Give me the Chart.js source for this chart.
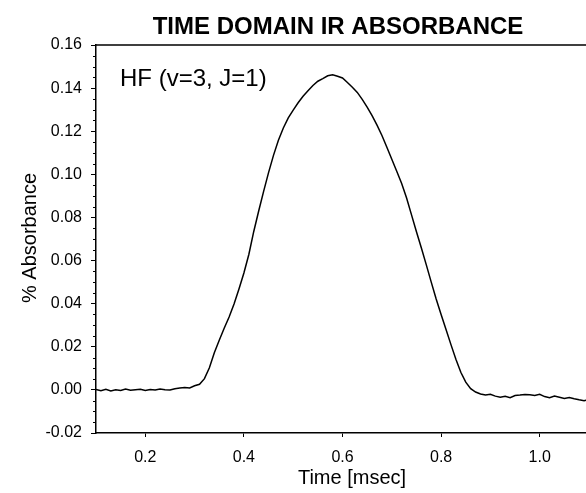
<!DOCTYPE html>
<html>
<head>
<meta charset="utf-8">
<script src="https://cdn.jsdelivr.net/npm/chart.js@4"></script>
<style>
html,body{margin:0;padding:0;background:#fff;}
#wrap{width:586px;height:493px;overflow:hidden;position:relative;}
canvas{display:block;}
</style>
</head>
<body>
<div id="wrap"><canvas id="c" width="600" height="493"></canvas></div>
<script>
const chartTitle = "TIME DOMAIN IR ABSORBANCE";
const annotation = "HF (v=3, J=1)";
const xTitle = "Time [msec]";
const yTitle = "% Absorbance";

const times = [0.10,0.11,0.12,0.13,0.14,0.15,0.16,0.17,0.18,0.19,
0.20,0.21,0.22,0.23,0.24,0.25,0.26,0.27,0.28,0.29,
0.30,0.31,0.32,0.33,0.34,0.35,0.36,0.37,0.38,0.39,
0.40,0.41,0.42,0.43,0.44,0.45,0.46,0.47,0.48,0.49,
0.50,0.51,0.52,0.53,0.54,0.55,0.56,0.57,0.58,0.59,
0.60,0.61,0.62,0.63,0.64,0.65,0.66,0.67,0.68,0.69,
0.70,0.71,0.72,0.73,0.74,0.75,0.76,0.77,0.78,0.79,
0.80,0.81,0.82,0.83,0.84,0.85,0.86,0.87,0.88,0.89,
0.90,0.91,0.92,0.93,0.94,0.95,0.96,0.97,0.98,0.99,
1.00,1.01,1.02,1.03,1.04,1.05,1.06,1.07,1.08,1.09,1.10];

const absorbance = [0.0002,-0.0004,0.0003,-0.0005,0.0001,-0.0003,0.0004,-0.0002,0.0001,0.0003,
-0.0003,0.0002,-0.0001,0.0004,0.0001,0.0000,0.0005,0.0009,0.0011,0.0009,
0.0019,0.0026,0.0052,0.0103,0.0172,0.0230,0.0286,0.0338,0.0398,0.0468,
0.0542,0.0628,0.0735,0.0830,0.0921,0.1008,0.1088,0.1158,0.1215,0.1262,
0.1298,0.1332,0.1362,0.1388,0.1412,0.1432,0.1444,0.1457,0.1462,0.1455,
0.1447,0.1426,0.1404,0.1380,0.1348,0.1312,0.1272,0.1228,0.1180,0.1126,
0.1070,0.1014,0.0958,0.0890,0.0812,0.0734,0.0658,0.0580,0.0500,0.0422,
0.0350,0.0280,0.0210,0.0142,0.0082,0.0036,0.0006,-0.0010,-0.0019,-0.0024,
-0.0020,-0.0029,-0.0034,-0.0030,-0.0036,-0.0026,-0.0024,-0.0021,-0.0023,-0.0026,
-0.0020,-0.0031,-0.0036,-0.0029,-0.0034,-0.0040,-0.0035,-0.0041,-0.0046,-0.0050,-0.0044];

const xTicks = [0.2, 0.4, 0.6, 0.8, 1.0];
const xTickLabels = ["0.2", "0.4", "0.6", "0.8", "1.0"];
const yTicks = [-0.02, 0.00, 0.02, 0.04, 0.06, 0.08, 0.10, 0.12, 0.14, 0.16];
const yTickLabels = ["-0.02", "0.00", "0.02", "0.04", "0.06", "0.08", "0.10", "0.12", "0.14", "0.16"];
const yMinorTicks = [-0.015,-0.01,-0.005,0.005,0.01,0.015,0.025,0.03,0.035,0.045,0.05,0.055,
0.065,0.07,0.075,0.085,0.09,0.095,0.105,0.11,0.115,0.125,0.13,0.135,0.145,0.15,0.155];

const FONT = "'Liberation Sans', Arial, Helvetica, sans-serif";

const decor = {
  id: 'decor',
  afterDraw(chart) {
    const ctx = chart.ctx, a = chart.chartArea, ys = chart.scales.y;
    ctx.save();
    ctx.strokeStyle = '#000';
    ctx.lineWidth = 1.5;
    ctx.beginPath();
    ctx.moveTo(a.left, a.top); ctx.lineTo(a.right, a.top);
    ctx.moveTo(a.right, a.top); ctx.lineTo(a.right, a.bottom);
    ctx.stroke();
    ctx.lineWidth = 1;
    ctx.beginPath();
    yMinorTicks.forEach(v => {
      const p = Math.round(ys.getPixelForValue(v)) + 0.5;
      ctx.moveTo(a.left - 3, p); ctx.lineTo(a.left, p);
    });
    ctx.stroke();
    ctx.fillStyle = '#000';
    ctx.textBaseline = 'alphabetic';
    ctx.textAlign = 'center';
    ctx.font = "bold 24px " + FONT;
    ctx.fillText(chartTitle, 338, 34);
    ctx.textAlign = 'left';
    ctx.font = "24px " + FONT;
    ctx.fillText(annotation, 120, 86);
    ctx.textAlign = 'center';
    ctx.font = "20px " + FONT;
    ctx.fillText(xTitle, 352, 484);
    ctx.translate(36, 238);
    ctx.rotate(-Math.PI / 2);
    ctx.fillText(yTitle, 0, 0);
    ctx.restore();
  }
};

new Chart(document.getElementById('c'), {
  type: 'line',
  data: {
    datasets: [{
      data: times.map((t, i) => ({ x: t, y: absorbance[i] })),
      borderColor: '#000',
      borderWidth: 1.5,
      pointRadius: 0,
      tension: 0,
      fill: false
    }]
  },
  options: {
    responsive: false,
    animation: false,
    events: [],
    layout: { padding: { left: 0, right: 11, top: 45, bottom: 0 } },
    plugins: { legend: { display: false }, title: { display: false }, tooltip: { enabled: false } },
    scales: {
      x: {
        type: 'linear',
        min: 0.1, max: 1.1,
        afterFit(s) { s.height = 60; },
        afterBuildTicks(s) { s.ticks = xTicks.map(v => ({ value: v })); },
        ticks: {
          color: '#000',
          font: { size: 16, family: FONT },
          padding: 11,
          maxRotation: 0,
          autoSkip: false,
          callback: (v) => { const i = xTicks.findIndex(t => Math.abs(t - v) < 1e-9); return i >= 0 ? xTickLabels[i] : ''; }
        },
        grid: { drawOnChartArea: false, drawTicks: true, tickLength: 4, color: '#000', lineWidth: 1 },
        border: { display: true, color: '#000', width: 1.5 }
      },
      y: {
        type: 'linear',
        min: -0.02, max: 0.16,
        afterFit(s) { s.width = 96; },
        afterBuildTicks(s) { s.ticks = yTicks.map(v => ({ value: v })); },
        ticks: {
          color: '#000',
          font: { size: 16, family: FONT },
          padding: 9,
          autoSkip: false,
          callback: (v) => { const i = yTicks.findIndex(t => Math.abs(t - v) < 1e-9); return i >= 0 ? yTickLabels[i] : ''; }
        },
        grid: { drawOnChartArea: false, drawTicks: true, tickLength: 5, color: '#000', lineWidth: 1 },
        border: { display: true, color: '#000', width: 1.5 }
      }
    }
  },
  plugins: [decor]
});
</script>
</body>
</html>
